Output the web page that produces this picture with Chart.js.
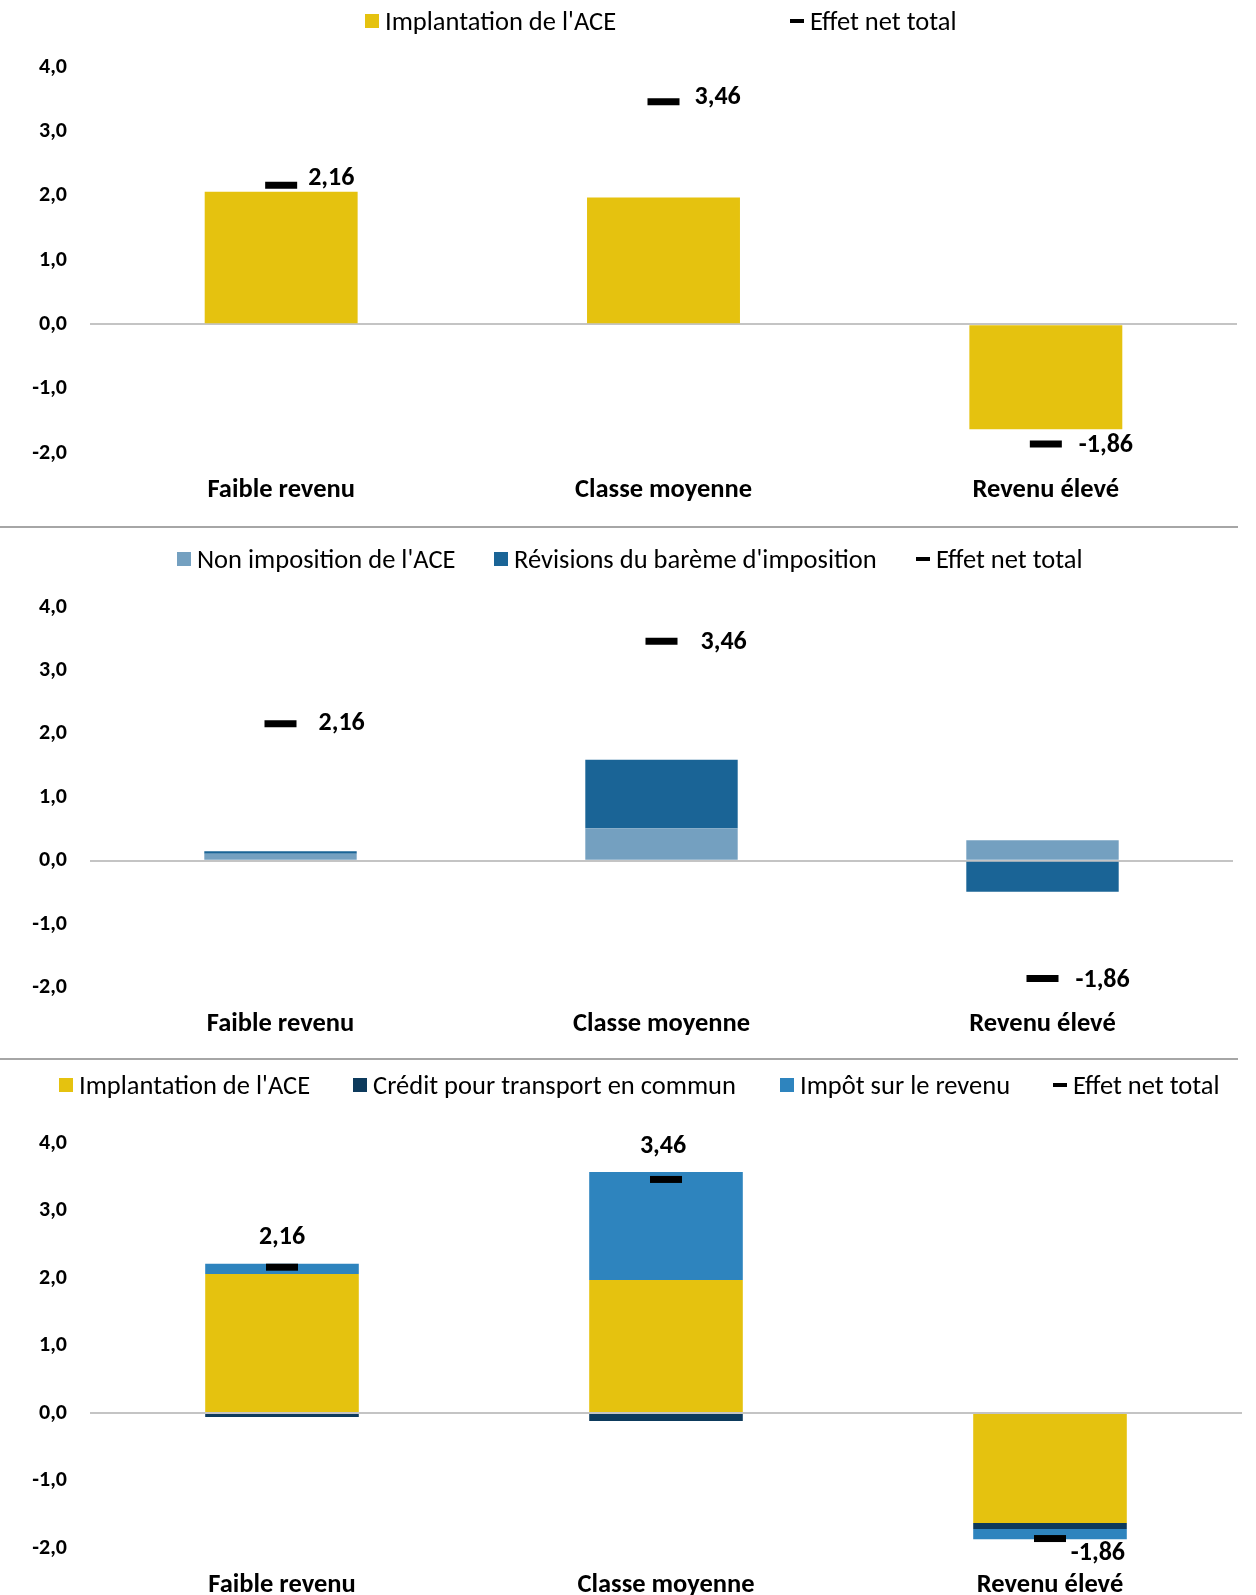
<!DOCTYPE html>
<html>
<head>
<meta charset="utf-8">
<script src="https://cdn.jsdelivr.net/npm/chart.js@4"></script>
<style>
  body { margin: 0; background: #fff; width: 1256px; height: 1595px; position: relative; overflow: hidden;
         font-family: Carlito, Calibri, Lato, sans-serif; }
  canvas { position: absolute; left: 0; }
  .sep { position: absolute; left: 0; width: 1238px; height: 2px; background: #a6a6a6; }
  .leg { position: absolute; display: flex; align-items: center; height: 28px; font-size: 26.5px; color: #000; white-space: nowrap; }
  .leg .box { width: 14px; height: 14px; margin-right: 6px; }
  .leg .dash { width: 14px; height: 4px; margin-right: 6px; background: #000; }
</style>
</head>
<body>
<div class="sep" style="top:526px"></div>
<div class="sep" style="top:1058px"></div>
<canvas id="c1" width="1260" height="527" style="top:0"></canvas>
<canvas id="c2" width="1256" height="530" style="top:529px"></canvas>
<canvas id="c3" width="1265" height="534" style="top:1061px"></canvas>
<script>
const FONT = 'Carlito, Calibri, Lato, sans-serif';

const categories = ['Faible revenu', 'Classe moyenne', 'Revenu élevé'];
const effetNet = [2.16, 3.46, -1.86];
const implantationACE = [2.06, 1.97, -1.63];
const nonImpositionACE = [0.11, 0.51, 0.32];
const revisionsBareme = [0.04, 1.08, -0.49];
const creditTransport = [-0.06, -0.12, -0.09];
const impotRevenu = [0.15, 1.60, -0.15];
const yMin = -2, yMax = 4, yStep = 1;

const fmt = (v, d) => v.toFixed(d).replace('.', ',');

// etiquettes de l'effet net total
const netLabels = {
  id: 'netLabels',
  afterDatasetsDraw(chart, args, opts) {
    const idx = chart.data.datasets.length - 1;
    const meta = chart.getDatasetMeta(idx);
    const ctx = chart.ctx;
    ctx.save();
    ctx.font = 'bold 26px ' + FONT;
    ctx.fillStyle = '#000';
    ctx.textBaseline = 'middle';
    meta.data.forEach((pt, i) => {
      const o = opts.offsets[i];
      ctx.textAlign = o[2];
      ctx.fillText(fmt(chart.data.datasets[idx].data[i], 2), pt.x + o[0], pt.y + o[1]);
    });
    ctx.restore();
  }
};

function makePanel(id, bars, cfg) {
  const datasets = bars.map(b => ({
    label: b.label,
    data: b.data,
    backgroundColor: b.color,
    stack: 'barres',
    order: 1,
    borderWidth: 0,
    barPercentage: 1,
    categoryPercentage: 0.4
  }));
  datasets.push({
    type: 'line',
    label: 'Effet net total',
    data: effetNet,
    stack: 'net',
    order: 0,
    showLine: false,
    borderColor: '#000',
    pointStyle: 'line',
    pointRadius: 16,
    pointHoverRadius: 16,
    pointBorderWidth: 7,
    pointHoverBorderWidth: 7,
    pointBorderColor: '#000',
    pointBackgroundColor: '#000'
  });

  const chart = new Chart(document.getElementById(id), {
    type: 'bar',
    data: { labels: categories, datasets: datasets },
    plugins: [netLabels],
    options: {
      responsive: false,
      animation: false,
      devicePixelRatio: 1,
      layout: { padding: { top: cfg.top, right: 0, left: 0, bottom: 0 } },
      plugins: {
        legend: { display: false },
        tooltip: { enabled: false },
        netLabels: { offsets: cfg.offsets }
      },
      scales: {
        x: {
          stacked: true,
          grid: { display: false, drawTicks: false },
          border: { display: false },
          ticks: { color: '#000', padding: cfg.xpad, font: { family: FONT, size: 26.5, weight: 'bold' } },
          afterFit: s => { s.height = cfg.xh; }
        },
        y: {
          stacked: true,
          min: yMin,
          max: yMax,
          grid: {
            drawTicks: false,
            lineWidth: 2,
            color: c => c.tick && c.tick.value === 0 ? '#c4c4c4' : 'rgba(0,0,0,0)'
          },
          border: { display: false },
          ticks: {
            stepSize: yStep,
            padding: 23,
            color: '#000',
            font: { family: FONT, size: 22, weight: 'bold' },
            callback: v => fmt(v, 1)
          },
          afterFit: s => { s.width = 90; }
        }
      }
    }
  });

  // legende HTML
  chart.data.datasets.forEach((ds, i) => {
    const d = document.createElement('div');
    d.className = 'leg';
    d.style.left = cfg.legX[i] + 'px';
    d.style.top = (cfg.legY - 14) + 'px';
    const mk = document.createElement('span');
    if (ds.type === 'line') {
      mk.className = 'dash';
    } else {
      mk.className = 'box';
      mk.style.background = ds.backgroundColor;
    }
    d.appendChild(mk);
    d.appendChild(document.createTextNode(ds.label));
    document.body.appendChild(d);
  });
  return chart;
}

makePanel('c1', [
  { label: "Implantation de l'ACE", data: implantationACE, color: '#E5C20F' }
], {
  top: 67, xh: 74, xpad: 21, legY: 21, legX: [365, 790],
  offsets: [[27, -7, 'left'], [31, -4, 'left'], [33, 2, 'left']]
});

makePanel('c2', [
  { label: "Non imposition de l'ACE", data: nonImpositionACE, color: '#74A0C0' },
  { label: "Révisions du barème d'imposition", data: revisionsBareme, color: '#1A6496' }
], {
  top: 78, xh: 71.5, xpad: 21, legY: 559, legX: [177, 494, 916],
  offsets: [[38, 0, 'left'], [39, 1, 'left'], [33, 2, 'left']]
});

makePanel('c3', [
  { label: "Implantation de l'ACE", data: implantationACE, color: '#E5C20F' },
  { label: 'Crédit pour transport en commun', data: creditTransport, color: '#0D3A5C' },
  { label: 'Impôt sur le revenu', data: impotRevenu, color: '#2E84BE' }
], {
  top: 82, xh: 47, xpad: 21, legY: 1085, legX: [59, 353, 780, 1053],
  offsets: [[0, -30, 'center'], [-3, -33, 'center'], [75, 15, 'right']]
});
</script>
</body>
</html>
